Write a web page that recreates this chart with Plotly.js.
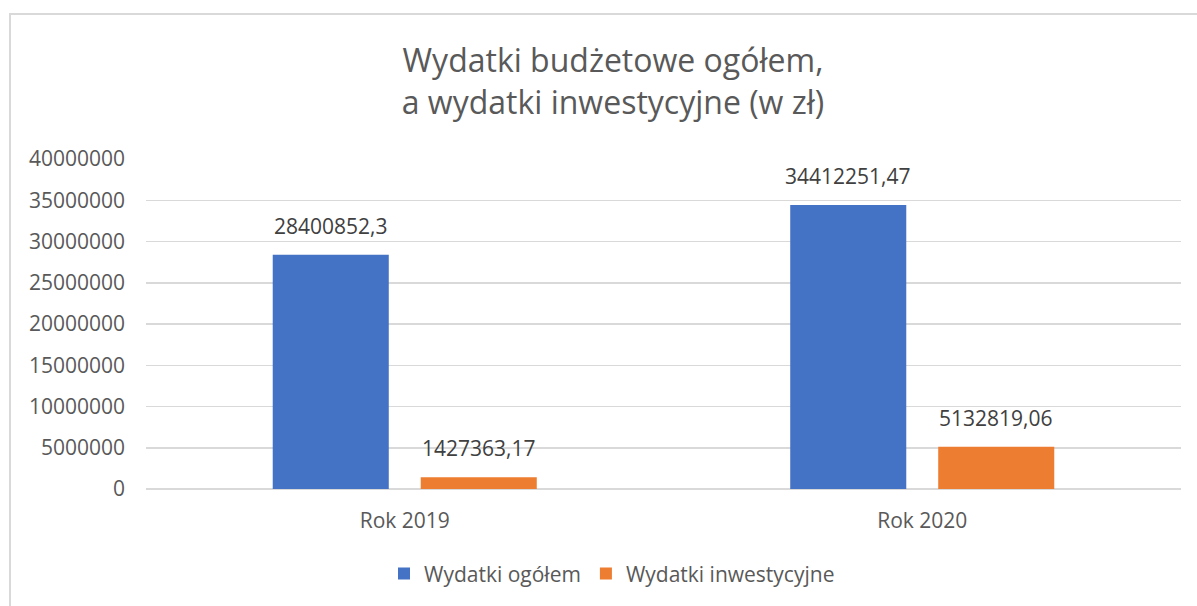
<!DOCTYPE html>
<html>
<head>
<meta charset="utf-8">
<script src="https://cdn.plot.ly/plotly-3.0.1.min.js"></script>
<style>
  html, body { margin: 0; padding: 0; background: #ffffff; overflow: hidden; }
  #frame { position: absolute; left: 9px; top: 13px; width: 1220px; height: 640px; border: 2px solid #d9d9d9; box-sizing: border-box; }
  #chart { position: absolute; left: 0; top: 0; width: 1197px; height: 606px; }
</style>
</head>
<body>
<div id="frame"></div>
<div id="chart"></div>
<script>
// ---- data ----
var categories = ['Rok 2019', 'Rok 2020'];
var seriesNames = ['Wydatki ogółem', 'Wydatki inwestycyjne'];
var wydatkiOgolem = [28400852.3, 34412251.47];
var wydatkiInwestycyjne = [1427363.17, 5132819.06];
var yTickValues = [0, 5000000, 10000000, 15000000, 20000000, 25000000, 30000000, 35000000, 40000000];
var titleLines = ['Wydatki budżetowe ogółem,', 'a wydatki inwestycyjne (w zł)'];

var FONT = '"Open Sans", "Liberation Sans", sans-serif';
var GREY = '#595959';
var LABEL = '#404040';

function plLabel(v) { return String(v).replace('.', ','); }

var traces = [
  { type: 'bar', name: seriesNames[0], x: categories, y: wydatkiOgolem,
    marker: { color: '#4472c4' }, hoverinfo: 'skip' },
  { type: 'bar', name: seriesNames[1], x: categories, y: wydatkiInwestycyjne,
    marker: { color: '#ed7d31' }, hoverinfo: 'skip' }
];

var annotations = [];
var allSeries = [wydatkiOgolem, wydatkiInwestycyjne];
var shifts = [-74, 74];
allSeries.forEach(function (vals, s) {
  vals.forEach(function (v, i) {
    annotations.push({
      x: categories[i], y: v, xref: 'x', yref: 'y',
      text: plLabel(v), showarrow: false,
      xanchor: 'center', yanchor: 'bottom',
      xshift: shifts[s], yshift: 13,
      font: { family: FONT, size: 21, color: LABEL }
    });
  });
});

var layout = {
  width: 1197, height: 606,
  paper_bgcolor: 'rgba(0,0,0,0)', plot_bgcolor: 'rgba(0,0,0,0)',
  margin: { l: 146, r: 16, t: 159, b: 115, pad: 0 },
  barmode: 'group', bargap: 0.428, bargroupgap: 0.216,
  title: {
    text: titleLines.join('<br>'),
    font: { family: FONT, size: 32, color: GREY },
    xref: 'container', x: 613 / 1197, xanchor: 'center',
    yref: 'container', y: 1 - 72 / 606, yanchor: 'top'
  },
  xaxis: {
    type: 'category', showgrid: false, zeroline: false, showline: false,
    ticks: '', ticklabelstandoff: 17,
    tickfont: { family: FONT, size: 21, color: GREY }
  },
  yaxis: {
    range: [0, 40000000], tickmode: 'array', tickvals: yTickValues,
    ticktext: yTickValues.map(function (v) { return String(v); }),
    showgrid: true, gridcolor: '#d9d9d9', gridwidth: 1.5,
    zeroline: true, zerolinecolor: '#d9d9d9', zerolinewidth: 1.5,
    showline: false, ticks: '', ticklabelstandoff: 20,
    tickfont: { family: FONT, size: 21, color: GREY }
  },
  showlegend: true,
  legend: {
    orientation: 'h', xanchor: 'center', x: (612 - 146) / 1035,
    yanchor: 'middle', y: (490.7 - 576) / 332,
    font: { family: FONT, size: 21, color: GREY },
    itemclick: false, itemdoubleclick: false, bgcolor: 'rgba(0,0,0,0)'
  },
  annotations: annotations,
  hovermode: false
};

Plotly.newPlot('chart', traces, layout, { staticPlot: true, displayModeBar: false });
</script>
</body>
</html>
